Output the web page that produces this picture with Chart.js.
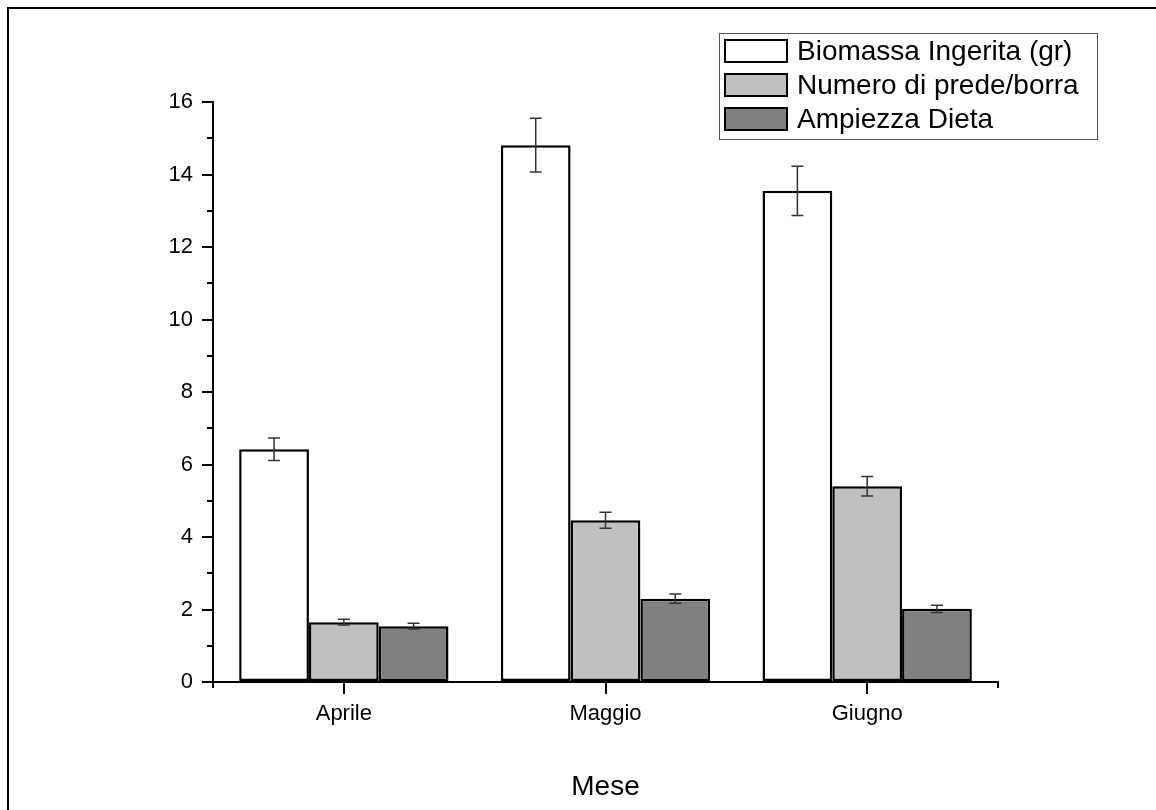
<!DOCTYPE html>
<html lang="it">
<head>
    <meta charset="UTF-8">
    <title>Dieta - Aprile / Giugno</title>
    <script src="https://cdn.jsdelivr.net/npm/chart.js"></script>
    <style>
        body { margin: 0; background: #fff; }
        .box { width: 1156px; height: 810px; position: relative; }
    </style>
</head>
<body>
    <div class="box">
        <canvas id="grafico"></canvas>
    </div>

<script>
// dati per mese
const mesi = ['Aprile', 'Maggio', 'Giugno'];
const biomassa = [6.42, 14.81, 13.55];
const biomassaErr = [0.31, 0.74, 0.68];
const prede = [1.65, 4.46, 5.40];
const predeErr = [0.08, 0.22, 0.27];
const ampiezza = [1.54, 2.30, 2.02];
const ampiezzaErr = [0.08, 0.13, 0.10];
const yTicks = [0, 2, 4, 6, 8, 10, 12, 14, 16];

const font = "'Liberation Sans', Arial, sans-serif";
Chart.defaults.font.family = font;
Chart.defaults.color = '#000';

// cornice, tacche minori e barre d'errore
const extra = {
    id: 'extra',
    beforeDraw(chart) {
        const c = chart.ctx;
        c.save();
        c.fillStyle = '#fff';
        c.fillRect(0, 0, chart.width, chart.height);
        c.strokeStyle = '#000';
        c.lineWidth = 2;
        c.beginPath();
        c.moveTo(8, chart.height);
        c.lineTo(8, 8);
        c.lineTo(chart.width, 8);
        c.stroke();
        c.restore();
    },
    afterDraw(chart) {
        const c = chart.ctx;
        const y = chart.scales.y;
        const x = chart.scales.x;
        c.save();
        c.strokeStyle = '#000';
        c.lineWidth = 2;
        c.beginPath();
        for (let v = 1; v < 16; v += 2) {
            const py = Math.round(y.getPixelForValue(v));
            c.moveTo(x.left, py);
            c.lineTo(x.left - 6, py);
        }
        c.moveTo(x.left, y.bottom);
        c.lineTo(x.left, y.bottom + 6);
        c.moveTo(x.right, y.bottom);
        c.lineTo(x.right, y.bottom + 6);
        c.stroke();

        // barre d'errore
        const errori = [biomassaErr, predeErr, ampiezzaErr];
        chart.data.datasets.forEach((ds, i) => {
            const meta = chart.getDatasetMeta(i);
            meta.data.forEach((bar, j) => {
                const v = ds.data[j];
                const e = errori[i][j];
                const top = y.getPixelForValue(v + e);
                const bot = y.getPixelForValue(v - e);
                c.strokeStyle = '#333';
                c.lineWidth = 1.5;
                c.beginPath();
                c.moveTo(bar.x, top);
                c.lineTo(bar.x, bot);
                c.moveTo(bar.x - 6, top);
                c.lineTo(bar.x + 6, top);
                c.moveTo(bar.x - 6, bot);
                c.lineTo(bar.x + 6, bot);
                c.stroke();
            });
        });

        // legenda
        const lx = 719, ly = 33, lw = 378, lh = 106;
        c.strokeStyle = '#555';
        c.lineWidth = 1;
        c.strokeRect(lx + 0.5, ly + 0.5, lw, lh);
        c.font = '28px ' + font;
        c.textBaseline = 'middle';
        chart.data.datasets.forEach((ds, i) => {
            const ry = 39 + i * 34;
            c.fillStyle = ds.backgroundColor;
            c.fillRect(724, ry, 64, 24);
            c.strokeStyle = '#000';
            c.lineWidth = 2;
            c.strokeRect(725, ry + 1, 62, 22);
            c.fillStyle = '#000';
            c.fillText(ds.label, 797, ry + 13);
        });
        c.restore();
    }
};

const data = {
    labels: mesi,
    datasets: [{
        label: 'Biomassa Ingerita (gr)',
        data: biomassa,
        backgroundColor: '#ffffff'
    }, {
        label: 'Numero di prede/borra',
        data: prede,
        backgroundColor: '#c0c0c0'
    }, {
        label: 'Ampiezza Dieta',
        data: ampiezza,
        backgroundColor: '#808080'
    }]
};

const config = {
    type: 'bar',
    data: data,
    options: {
        responsive: true,
        maintainAspectRatio: false,
        animation: false,
        layout: { padding: { left: 0, right: 158, top: 102, bottom: 0 } },
        datasets: {
            bar: {
                borderColor: '#000',
                borderWidth: 2.5,
                borderSkipped: false,
                categoryPercentage: 0.8,
                barPercentage: 1.0
            }
        },
        plugins: {
            legend: { display: false },
            tooltip: { enabled: false }
        },
        scales: {
            x: {
                afterFit(s) { s.height = 128; },
                grid: {
                    offset: false,
                    drawOnChartArea: false,
                    color: '#000',
                    lineWidth: 2,
                    tickLength: 12
                },
                border: { color: '#000', width: 2 },
                ticks: { font: { size: 22 }, padding: 7, color: '#000' },
                title: {
                    display: true,
                    text: 'Mese',
                    font: { size: 28 },
                    color: '#000',
                    padding: { top: 4, bottom: 6 }
                }
            },
            y: {
                min: 0,
                max: 16,
                afterFit(s) { s.width = 213; },
                afterBuildTicks(s) { s.ticks = yTicks.map(v => ({ value: v })); },
                grid: {
                    drawOnChartArea: false,
                    color: '#000',
                    lineWidth: 2,
                    tickLength: 11
                },
                border: { color: '#000', width: 2 },
                ticks: { font: { size: 22 }, padding: 9, color: '#000' }
            }
        }
    },
    plugins: [extra]
};

const grafico = new Chart(document.getElementById('grafico'), config);
</script>
</body>
</html>
